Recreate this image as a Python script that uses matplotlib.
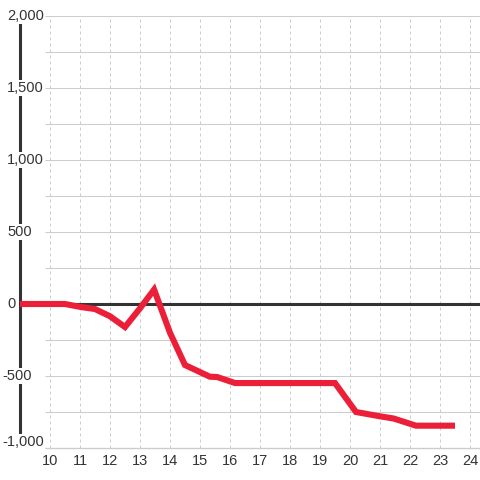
import matplotlib
matplotlib.use('Agg')
import matplotlib.pyplot as plt

plt.rcParams['font.family'] = ['Liberation Sans', 'DejaVu Sans']

# hour of day vs value
hours = [9.0, 10.5, 11.0, 11.5, 12.0, 12.5, 13.0, 13.47, 14.0, 14.5, 15.33, 15.57,
         16.17, 19.5, 20.2, 21.0, 21.45, 22.2, 23.5]
values = [0, 0, -20, -35, -85, -160, -30, 100, -200, -424, -505, -507,
          -549, -549, -750, -780, -795, -845, -845]

x_ticks = list(range(10, 25))
x_labels = [str(t) for t in x_ticks]
y_ticks = [2000, 1500, 1000, 500, 0, -500, -1000]
y_labels = ['2,000', '1,500', '1,000', '500', '0', '-500', '-1,000']
y_grid = [v for v in range(-750, 2001, 250) if v != 0]

px = 1 / 30.0           # data units of one pixel along x
py = 3000 / 432.0       # data units of one pixel along y
fig = plt.figure(figsize=(4.8, 4.8), dpi=100)
ax = fig.add_axes([20 / 480, 32 / 480, 460 / 480, 432 / 480])
ax.set_xlim(9, 9 + 460 * px)
ax.set_ylim(-1000, 2000)
ax.axis('off')

xmax = 9 + 460 * px
grid_start = 9 + 25 * px
grey = '#cccccc'
dark = '#333333'

ax.hlines(y_grid, grid_start, xmax, color=grey, lw=0.75, zorder=1, clip_on=False)
ax.hlines([-1000], grid_start, xmax, color=grey, lw=1.0, zorder=1, clip_on=False)
ax.vlines(x_ticks, -1000, 2000, color=grey, lw=0.72, linestyles=(0, (3, 3)),
          zorder=1, clip_on=False)
ax.hlines([0], grid_start, xmax, color=dark, lw=2.2, zorder=2, clip_on=False)
ax.vlines([9], -1000, 2000, color=dark, lw=2.2, zorder=2, clip_on=False)

ax.plot(hours, values, color='#ec1f38', lw=4.4, solid_joinstyle='miter',
        solid_capstyle='butt', zorder=3, clip_on=False)

for v, lab in zip(y_ticks, y_labels):
    x0 = 9 - 13 * px
    if lab.startswith('-'):
        x0 -= 5 * px
    y0 = v
    if v == min(y_ticks):
        y0 += 6 * py     # bottom label sits a little above the baseline
    ax.text(x0, y0, lab, ha='left', va='center', fontsize=10.5, color=dark,
            bbox=dict(facecolor='white', edgecolor='none', pad=1.0),
            zorder=5, clip_on=False)

for t, lab in zip(x_ticks, x_labels):
    ax.text(t, -1000 - 13 * py, lab, ha='center', va='center',
            fontsize=10.5, color=dark, zorder=5, clip_on=False)

fig.savefig('out.png', dpi=100, facecolor='white')
